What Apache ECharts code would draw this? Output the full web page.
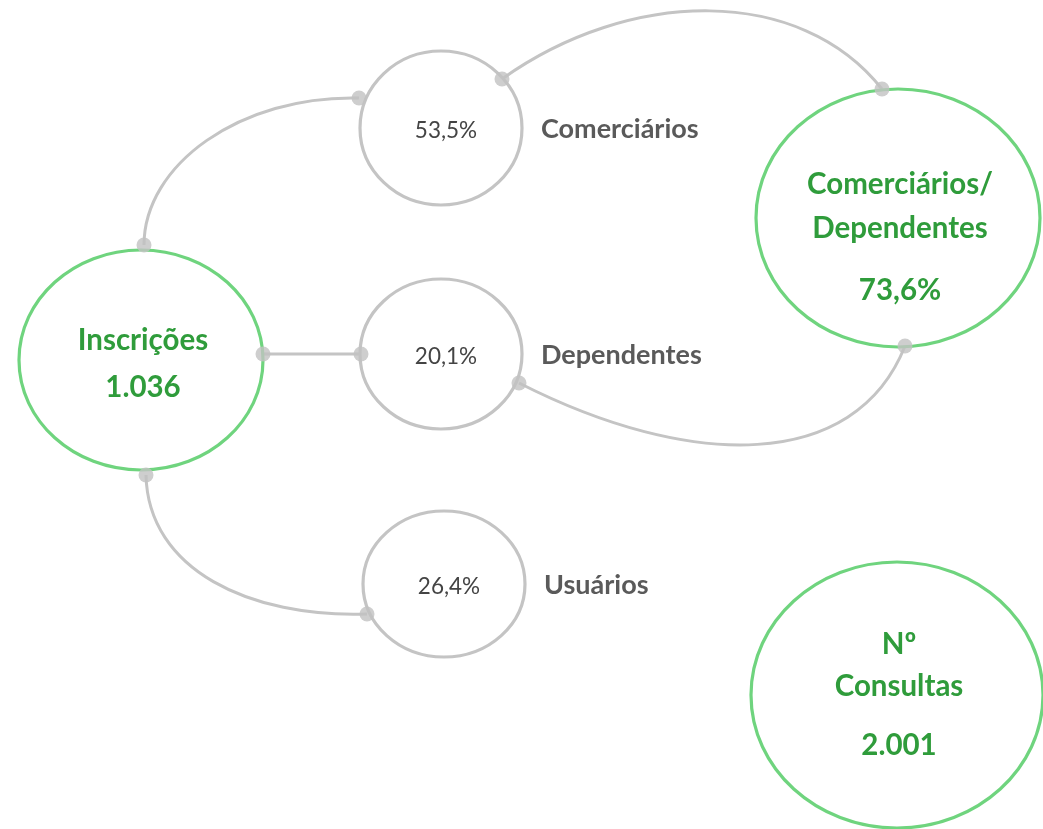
<!DOCTYPE html>
<html>
<head>
<meta charset="utf-8">
<script src="https://cdn.jsdelivr.net/npm/echarts@6/dist/echarts.min.js"></script>
<style>html,body{margin:0;padding:0;background:#fff}#c{width:1043px;height:829px}</style>
</head>
<body>
<div id="c"></div>
<script>
// ---- data ----
var nodeNames = ['Inscrições', 'Comerciários', 'Dependentes', 'Usuários', 'Comerciários/Dependentes', 'Nº Consultas'];
var nodeValues = ['1.036', '53,5%', '20,1%', '26,4%', '73,6%', '2.001'];
var sideLabels = ['', 'Comerciários', 'Dependentes', 'Usuários', '', ''];
var bigTitles = [['Inscrições'], null, null, null, ['Comerciários/', 'Dependentes'], ['Nº', 'Consultas']];
var links = [[0, 1], [0, 2], [0, 3], [1, 4], [2, 4]];

// ---- layout (diagram geometry, in pixel-like data units) ----
var nodeLayout = [
  {cx: 141, cy: 360, rx: 122, ry: 110, big: true},
  {cx: 441, cy: 128, rx: 81, ry: 77},
  {cx: 441, cy: 354, rx: 81, ry: 75},
  {cx: 444, cy: 584, rx: 81, ry: 73},
  {cx: 898, cy: 218, rx: 142, ry: 129, big: true},
  {cx: 897, cy: 695, rx: 146, ry: 133, big: true}
];
var bigTextY = [[-20, 27], null, null, null, [-34, 10, 72], [-51, -9, 50]];
var linkLayout = [
  [144, 245, 144, 165, 240, 95, 359, 98],
  [263, 354, 300, 354, 330, 354, 361, 354],
  [146, 475, 148, 570, 250, 618, 367, 614],
  [502, 79, 630, -12, 800, -15, 882, 89],
  [519, 383, 690, 470, 855, 472, 905, 346]
];

var GREEN_STROKE = '#6fd47e', GREEN_TEXT = '#2f9c3b', GRAY = '#c4c4c4';
var FONT = 'Lato, "Open Sans", sans-serif';

var nodeData = nodeNames.map(function (n, i) {
  var L = nodeLayout[i];
  return [L.cx, L.cy, L.rx, L.ry, i];
});

var dotData = [];
linkLayout.forEach(function (l) { dotData.push([l[0], l[1]]); dotData.push([l[6], l[7]]); });

var chart = echarts.init(document.getElementById('c'));
chart.setOption({
  animation: false,
  grid: {left: 0, right: 0, top: 0, bottom: 0},
  xAxis: {type: 'value', min: 0, max: 1043, show: false},
  yAxis: {type: 'value', min: 0, max: 829, inverse: true, show: false},
  series: [
    {
      type: 'custom',
      coordinateSystem: 'cartesian2d',
      data: linkLayout,
      renderItem: function (params, api) {
        var p = [];
        for (var k = 0; k < 4; k++) p.push(api.coord([api.value(2 * k), api.value(2 * k + 1)]));
        return {
          type: 'bezierCurve',
          shape: {x1: p[0][0], y1: p[0][1], cpx1: p[1][0], cpy1: p[1][1], cpx2: p[2][0], cpy2: p[2][1], x2: p[3][0], y2: p[3][1]},
          style: {stroke: GRAY, lineWidth: 3, fill: null}
        };
      },
      z: 1
    },
    {
      type: 'custom',
      coordinateSystem: 'cartesian2d',
      data: nodeData,
      renderItem: function (params, api) {
        var i = api.value(4);
        var c = api.coord([api.value(0), api.value(1)]);
        var e = api.coord([api.value(0) + api.value(2), api.value(1) + api.value(3)]);
        var rx = e[0] - c[0], ry = e[1] - c[1];
        var L = nodeLayout[i];
        var children = [{
          type: 'ellipse',
          shape: {cx: c[0], cy: c[1], rx: rx, ry: ry},
          style: {stroke: L.big ? GREEN_STROKE : GRAY, lineWidth: 3.2, fill: '#fff'}
        }];
        if (L.big) {
          var lines = bigTitles[i].concat([nodeValues[i]]);
          lines.forEach(function (t, j) {
            children.push({
              type: 'text',
              style: {text: t, x: c[0] + 2, y: c[1] + bigTextY[i][j], align: 'center', verticalAlign: 'middle',
                fill: GREEN_TEXT, font: 'bold 29.5px ' + FONT}
            });
          });
        } else {
          children.push({
            type: 'text',
            style: {text: nodeValues[i], x: c[0] + 5, y: c[1] + 3, align: 'center', verticalAlign: 'middle',
              fill: '#444', font: '22.5px ' + FONT}
          });
          children.push({
            type: 'text',
            style: {text: sideLabels[i], x: c[0] + rx + 19, y: c[1] + 1, align: 'left', verticalAlign: 'middle',
              fill: '#5a5a5a', font: 'bold 27px ' + FONT}
          });
        }
        return {type: 'group', children: children};
      },
      z: 2
    },
    {
      type: 'scatter',
      data: dotData,
      symbol: 'circle',
      symbolSize: 15,
      itemStyle: {color: '#c2c2c2'},
      z: 3
    }
  ]
});
</script>
</body>
</html>
